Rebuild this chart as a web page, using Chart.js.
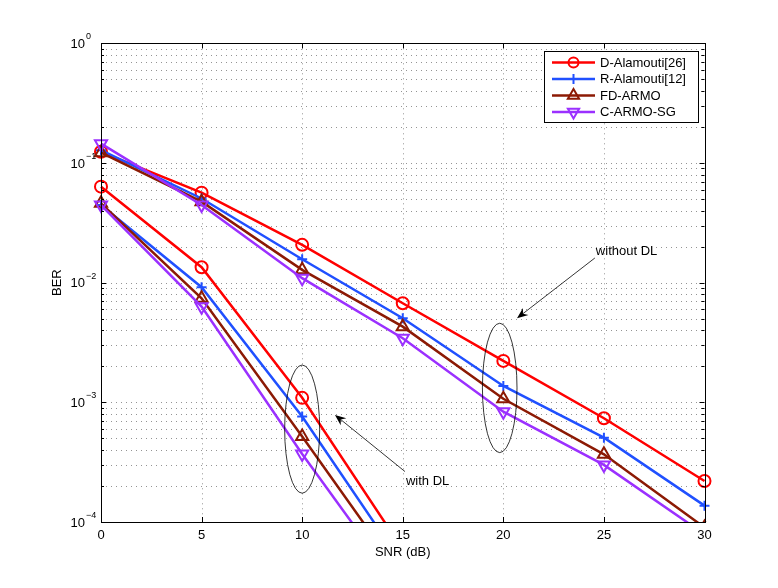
<!doctype html>
<html lang="en">
<head>
  <meta charset="utf-8">
  <title>BER vs SNR</title>
  <script src="https://cdn.jsdelivr.net/npm/chart.js"></script>
  <style>
    html, body { margin: 0; padding: 0; background: #fff; }
    #wrap { width: 778px; height: 588px; }
  </style>
</head>
<body>
  <div id="wrap"><canvas id="berChart"></canvas></div>

  <script>
    // SNR (dB) points and axis ticks
    const snr    = [0, 5, 10, 15, 20, 25, 30];
    const xTicks = [0, 5, 10, 15, 20, 25, 30];
    const yExps  = [0, -1, -2, -3, -4];

    // without DL
    const dAlamouti = [0.124, 0.0565, 0.0207, 0.00673, 0.00222, 0.000736, 0.00022];
    const rAlamouti = [0.128, 0.0505, 0.0157, 0.00504, 0.00137, 0.000507, 0.000137];
    const fdArmo    = [0.122, 0.0475, 0.0128, 0.00429, 0.00107, 0.000368, 0.00009];
    const cArmoSg   = [0.145, 0.0446, 0.0109, 0.00343, 0.000836, 0.0003, 0.000079];

    // with DL (runs off the bottom after 10 dB)
    const dAlamoutiDL = [0.0634, 0.01345, 0.00109, 0.000059];
    const rAlamoutiDL = [0.0445, 0.00916, 0.00076, 0.000044];
    const fdArmoDL    = [0.046, 0.0074, 0.000518, 0.000034];
    const cArmoSgDL   = [0.0445, 0.0063, 0.00037, 0.0000256];

    const seriesNames = ['D-Alamouti[26]', 'R-Alamouti[12]', 'FD-ARMO', 'C-ARMO-SG'];

    const styles = [
      { color: '#ff0000', point: 'circle',   radius: 6, rot: 0 },
      { color: '#2050ff', point: 'cross',    radius: 5, rot: 0 },
      { color: '#8c1a04', point: 'triangle', radius: 7, rot: 0 },
      { color: '#9b30ff', point: 'triangle', radius: 7, rot: 180 }
    ];

    const font = '"Liberation Sans", Arial, Helvetica, sans-serif';

    function toPoints(vals) {
      return vals.map((v, i) => ({ x: snr[i], y: v }));
    }

    function makeSet(label, vals, k) {
      const s = styles[k];
      return {
        label: label,
        data: toPoints(vals),
        borderColor: s.color,
        borderWidth: 2.5,
        pointStyle: s.point,
        pointRadius: s.radius,
        pointRotation: s.rot,
        pointBorderWidth: 2,
        pointBackgroundColor: 'rgba(0,0,0,0)',
        pointBorderColor: s.color,
        tension: 0,
        fill: false,
        order: 4 - k,
        clip: { left: 12, right: 12, top: 12, bottom: 0 }
      };
    }

    const upper = [dAlamouti, rAlamouti, fdArmo, cArmoSg];
    const lower = [dAlamoutiDL, rAlamoutiDL, fdArmoDL, cArmoSgDL];
    const datasets = [];
    upper.forEach((v, k) => datasets.push(makeSet(seriesNames[k], v, k)));
    lower.forEach((v, k) => datasets.push(makeSet(seriesNames[k] + ' (DL)', v, k)));

    // annotation shapes, placed in data units
    const ellipses = [
      { x: 10,    dx: 0.87, yTop: 2.05e-3, yBot: 1.74e-4 },
      { x: 19.82, dx: 0.86, yTop: 4.58e-3, yBot: 3.8e-4 }
    ];
    const arrows = [
      { from: [24.55, 0.01607], to: [20.68, 5.04e-3] },
      { from: [15.11, 2.64e-4], to: [11.63, 7.85e-4] }
    ];
    const notes = [
      { text: 'without DL', x: 24.6, y: 0.0184 },
      { text: 'with DL',    x: 15.16, y: 2.2e-4 }
    ];

    const decor = {
      id: 'decor',
      beforeDatasetsDraw(chart) {
        const { ctx, chartArea: a, scales: { x, y } } = chart;
        ctx.save();
        ctx.strokeStyle = 'rgba(0,0,0,0.42)';
        ctx.lineWidth = 1;
        ctx.setLineDash([1, 4]);
        xTicks.forEach(t => {
          const px = Math.round(x.getPixelForValue(t)) + 0.5;
          ctx.beginPath(); ctx.moveTo(px, a.top); ctx.lineTo(px, a.bottom); ctx.stroke();
        });
        for (let e = -4; e < 0; e++) {
          for (let m = 1; m < 10; m++) {
            const py = Math.round(y.getPixelForValue(m * Math.pow(10, e))) + 0.5;
            ctx.beginPath(); ctx.moveTo(a.left, py); ctx.lineTo(a.right, py); ctx.stroke();
          }
        }
        ctx.restore();
      },
      afterDatasetsDraw(chart) {
        const { ctx, scales: { x, y } } = chart;
        ctx.save();
        ctx.strokeStyle = '#000';
        ctx.fillStyle = '#000';
        ctx.lineWidth = 0.8;
        ellipses.forEach(el => {
          const cx = x.getPixelForValue(el.x);
          const rx = x.getPixelForValue(el.x + el.dx) - cx;
          const t = y.getPixelForValue(el.yTop), b = y.getPixelForValue(el.yBot);
          ctx.beginPath();
          ctx.ellipse(cx, (t + b) / 2, rx, (b - t) / 2, 0, 0, Math.PI * 2);
          ctx.stroke();
        });
        arrows.forEach(ar => {
          const x0 = x.getPixelForValue(ar.from[0]), y0 = y.getPixelForValue(ar.from[1]);
          const x1 = x.getPixelForValue(ar.to[0]),   y1 = y.getPixelForValue(ar.to[1]);
          const ang = Math.atan2(y1 - y0, x1 - x0);
          const len = 11, half = 4.5, notch = 3.5;
          const bx = x1 - Math.cos(ang) * len, by = y1 - Math.sin(ang) * len;
          ctx.beginPath(); ctx.moveTo(x0, y0);
          ctx.lineTo(x1 - Math.cos(ang) * (len - notch), y1 - Math.sin(ang) * (len - notch));
          ctx.stroke();
          ctx.beginPath();
          ctx.moveTo(x1, y1);
          ctx.lineTo(bx - Math.sin(ang) * half, by + Math.cos(ang) * half);
          ctx.lineTo(x1 - Math.cos(ang) * (len - notch), y1 - Math.sin(ang) * (len - notch));
          ctx.lineTo(bx + Math.sin(ang) * half, by - Math.cos(ang) * half);
          ctx.closePath();
          ctx.fill();
        });
        ctx.font = '13px ' + font;
        ctx.textAlign = 'left';
        ctx.textBaseline = 'middle';
        notes.forEach(n => {
          ctx.fillText(n.text, x.getPixelForValue(n.x), y.getPixelForValue(n.y));
        });
        ctx.restore();
      },
      afterDraw(chart) {
        const { ctx, chartArea: a, scales: { x, y } } = chart;
        ctx.save();
        // box
        ctx.strokeStyle = '#000';
        ctx.lineWidth = 1;
        ctx.strokeRect(Math.round(a.left) + 0.5, Math.round(a.top) + 0.5,
                       Math.round(a.right - a.left), Math.round(a.bottom - a.top));
        // inward ticks
        ctx.beginPath();
        xTicks.forEach(t => {
          const px = Math.round(x.getPixelForValue(t)) + 0.5;
          ctx.moveTo(px, a.bottom); ctx.lineTo(px, a.bottom - 5);
          ctx.moveTo(px, a.top);    ctx.lineTo(px, a.top + 5);
        });
        for (let e = -4; e <= 0; e++) {
          for (let m = 1; m < 10; m++) {
            if (e === 0 && m > 1) break;
            const py = Math.round(y.getPixelForValue(m * Math.pow(10, e))) + 0.5;
            const L = m === 1 ? 5 : 3;
            ctx.moveTo(a.left, py);  ctx.lineTo(a.left + L, py);
            ctx.moveTo(a.right, py); ctx.lineTo(a.right - L, py);
          }
        }
        ctx.stroke();

        // tick labels
        ctx.fillStyle = '#000';
        ctx.font = '13px ' + font;
        ctx.textAlign = 'center';
        ctx.textBaseline = 'middle';
        xTicks.forEach(t => ctx.fillText(String(t), x.getPixelForValue(t), a.bottom + 13));
        yExps.forEach(e => {
          const py = y.getPixelForValue(Math.pow(10, e));
          ctx.font = '13px ' + font;
          ctx.textAlign = 'right';
          ctx.textBaseline = 'middle';
          ctx.fillText('10', a.left - 16, py + 1);
          ctx.font = '9px ' + font;
          ctx.textAlign = 'left';
          ctx.textBaseline = 'alphabetic';
          ctx.fillText(e === 0 ? '0' : '\u2212' + (-e), a.left - 15, py - 4);
        });

        // axis titles
        ctx.font = '13px ' + font;
        ctx.textAlign = 'center';
        ctx.textBaseline = 'middle';
        ctx.fillText('SNR (dB)', (a.left + a.right) / 2, a.bottom + 30);
        ctx.save();
        ctx.translate(57, (a.top + a.bottom) / 2);
        ctx.rotate(-Math.PI / 2);
        ctx.fillText('BER', 0, 0);
        ctx.restore();

        // legend
        const lx = 544.5, ly = 51.5, lw = 154, lh = 71;
        ctx.fillStyle = '#fff';
        ctx.fillRect(lx, ly, lw, lh);
        ctx.strokeStyle = '#000';
        ctx.lineWidth = 1;
        ctx.strokeRect(lx, ly, lw, lh);
        seriesNames.forEach((name, k) => {
          const s = styles[k];
          const ry = 62.5 + k * 16.5;
          ctx.strokeStyle = s.color;
          ctx.lineWidth = 2.5;
          ctx.beginPath(); ctx.moveTo(552, ry); ctx.lineTo(595, ry); ctx.stroke();
          ctx.lineWidth = 2;
          ctx.beginPath();
          const cx = 573.5;
          if (s.point === 'circle') {
            ctx.arc(cx, ry, 5, 0, Math.PI * 2);
          } else if (s.point === 'cross') {
            ctx.moveTo(cx - 5, ry); ctx.lineTo(cx + 5, ry);
            ctx.moveTo(cx, ry - 5); ctx.lineTo(cx, ry + 5);
          } else {
            const r = 6.5, d = s.rot ? -1 : 1;
            ctx.moveTo(cx, ry - d * r);
            ctx.lineTo(cx + r * 0.866, ry + d * r / 2);
            ctx.lineTo(cx - r * 0.866, ry + d * r / 2);
            ctx.closePath();
          }
          ctx.stroke();
          ctx.fillStyle = '#000';
          ctx.font = '13px ' + font;
          ctx.textAlign = 'left';
          ctx.textBaseline = 'middle';
          ctx.fillText(name, 600, ry + 0.5);
        });
        ctx.restore();
      }
    };

    const chart = new Chart(document.getElementById('berChart'), {
      type: 'line',
      data: { datasets: datasets },
      options: {
        responsive: true,
        maintainAspectRatio: false,
        animation: false,
        layout: { padding: { left: 101, right: 73.5, top: 43.3, bottom: 66 } },
        plugins: { legend: { display: false }, tooltip: { enabled: false } },
        scales: {
          x: { type: 'linear', min: 0, max: 30, display: false },
          y: { type: 'logarithmic', min: 1e-4, max: 1, display: false }
        }
      },
      plugins: [decor]
    });
  </script>
</body>
</html>
